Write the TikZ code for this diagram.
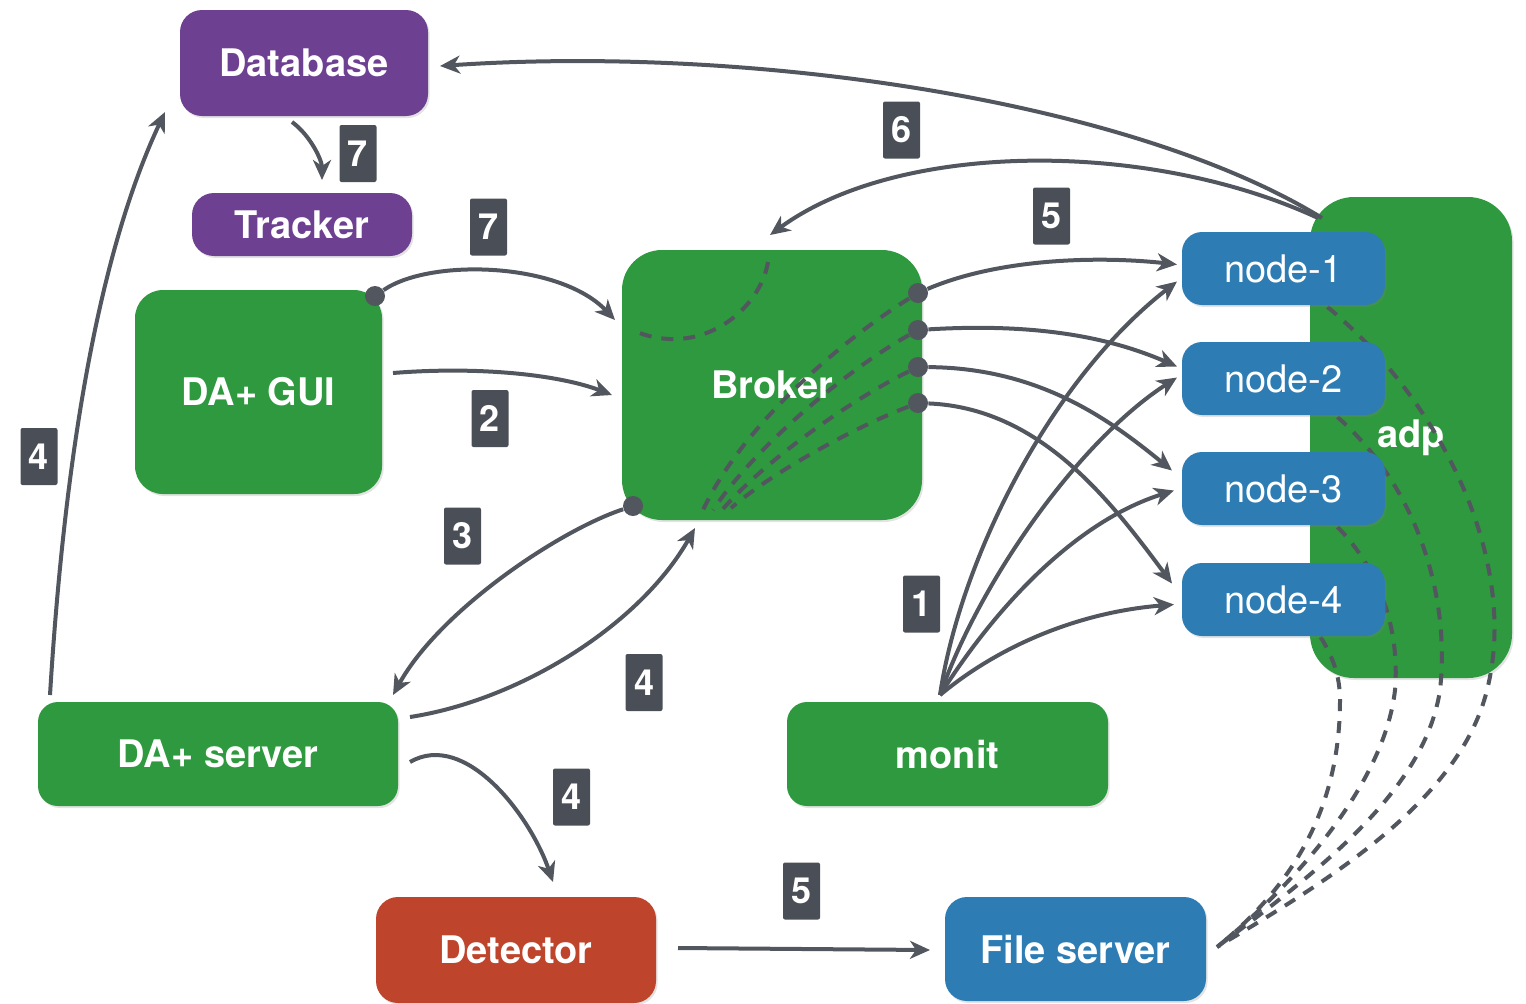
\documentclass[tikz,border=0pt]{standalone}
\usepackage{fontspec}
\setmainfont{TeX Gyre Heros}
\usetikzlibrary{arrows.meta,shadows}

\definecolor{boxGreen}{RGB}{46,153,62}
\definecolor{boxPurple}{RGB}{110,64,145}
\definecolor{boxBlue}{RGB}{45,125,180}
\definecolor{boxRed}{RGB}{190,68,44}
\definecolor{tagGray}{RGB}{74,78,86}
\definecolor{lineGray}{RGB}{82,86,94}

\pgfdeclarelayer{back}
\pgfdeclarelayer{mid}
\pgfsetlayers{back,mid,main}

\newcommand\boxfont{\fontsize{19pt}{22pt}\selectfont\bfseries}
\newcommand\plainfont{\fontsize{19pt}{22pt}\selectfont\mdseries}

\begin{document}
\begin{tikzpicture}[x=0.5pt,y=-0.5pt,
  box/.style={text=white, font=\boxfont, inner sep=0pt, outer sep=0pt,
    drop shadow={shadow xshift=0.8pt, shadow yshift=-1pt, opacity=0.22}},
  numtag/.style={fill=tagGray, text=white, font=\fontsize{18pt}{20pt}\selectfont\bfseries,
    minimum width=18.5pt, minimum height=28.5pt, inner sep=0pt, rounded corners=1pt},
  flow/.style={draw=lineGray, line width=2pt,
    -{Stealth[length=10pt,width=9pt,inset=3pt]}},
  dotmark/.style={circle, fill=lineGray, minimum size=10pt, inner sep=0pt},
  trace/.style={draw=lineGray, line width=2pt, dash pattern=on 6pt off 5pt},
]
\useasboundingbox (0,0) rectangle (1526,1003);

% ---------- boxes ----------
\begin{pgfonlayer}{back}
  \node[box, fill=boxGreen, rounded corners=22pt, minimum width=101pt, minimum height=240.5pt]
    (adp) at (1411,437.5) {adp};
\end{pgfonlayer}

\node[box, fill=boxPurple, rounded corners=11pt, minimum width=124pt, minimum height=53pt]
  (db) at (304,63) {Database};
\node[box, fill=boxPurple, rounded corners=11pt, minimum width=110pt, minimum height=31.5pt]
  (tracker) at (302,224.5) {Tracker};
\node[box, fill=boxGreen, rounded corners=14pt, minimum width=123.5pt, minimum height=102pt]
  (gui) at (258.5,392) {DA+ GUI};
\node[box, fill=boxGreen, rounded corners=20pt, minimum width=150pt, minimum height=135pt]
  (broker) at (772,385) {Broker};
\node[box, fill=boxGreen, rounded corners=10pt, minimum width=180pt, minimum height=52pt]
  (server) at (218,754) {DA+ server};
\node[box, fill=boxGreen, rounded corners=10pt, minimum width=160.5pt, minimum height=52pt]
  (monit) at (947.5,754) {monit};
\node[box, fill=boxRed, rounded corners=11pt, minimum width=140pt, minimum height=53pt]
  (detector) at (516,950) {Detector};
\node[box, fill=boxBlue, rounded corners=11pt, minimum width=130.5pt, minimum height=52pt]
  (files) at (1075.5,949) {File server};

\foreach \i/\y in {1/268.5, 2/378.5, 3/488.5, 4/599.5}
  \node[box, font=\plainfont, fill=boxBlue, rounded corners=10pt,
        minimum width=101.5pt, minimum height=36.5pt] (n\i) at (1283.5,\y) {node-\i};

% ---------- step numbers ----------
\node[numtag] (t7a) at (358,153.5) {7};
\node[numtag] (t7b) at (488.5,227) {7};
\node[numtag] (t6)  at (901.5,130) {6};
\node[numtag] (t5a) at (1051.5,216) {5};
\node[numtag] (t2)  at (490,418.5) {2};
\node[numtag] (t4a) at (39,456.5) {4};
\node[numtag] (t3)  at (462.5,536) {3};
\node[numtag] (t1)  at (921.5,604) {1};
\node[numtag] (t4b) at (644,682.5) {4};
\node[numtag] (t4c) at (571.5,797) {4};
\node[numtag] (t5b) at (801.5,891) {5};

% ---------- dashed traces inside adp, down to the file server ----------
\begin{pgfonlayer}{mid}
  \draw[trace] ([shift={(44,2)}]n1.south) .. controls (1440,400) and (1520,560) .. (1487,690)
     .. controls (1460,800) and (1330,880) .. ([shift={(11,-2)}]files.east);
  \draw[trace] ([shift={(54,2)}]n2.south) .. controls (1420,490) and (1450,600) .. (1440,690)
     .. controls (1425,790) and (1320,870) .. ([shift={(11,-2)}]files.east);
  \draw[trace] ([shift={(54,2)}]n3.south) .. controls (1380,570) and (1400,630) .. (1395,690)
     .. controls (1385,780) and (1300,880) .. ([shift={(11,-2)}]files.east);
  \draw[trace] ([shift={(37,1)}]n4.south) .. controls (1335,660) and (1340,680) .. (1340,700)
     .. controls (1340,800) and (1300,880) .. ([shift={(11,-2)}]files.east);
\end{pgfonlayer}

% ---------- connection points ----------
\node[dotmark] (g1) at (375,296) {};
\node[dotmark] (b1) at (918,293) {};
\node[dotmark] (b2) at (918,330) {};
\node[dotmark] (b3) at (918,367) {};
\node[dotmark] (b4) at (918,403) {};
\node[dotmark] (b0) at (633,506) {};

% ---------- dashed traces inside the broker ----------
\draw[trace] ([shift={(-4,12)}]broker.north) .. controls (760,310) and (700,360) .. ([shift={(10,-55)}]broker.west);
\draw[trace] (b1) .. controls (850,335) and (745,420) .. ([shift={(-69,-10)}]broker.south);
\draw[trace] (b2) .. controls (855,365) and (760,440) .. ([shift={(-59,-10)}]broker.south);
\draw[trace] (b3) .. controls (860,395) and (770,455) .. ([shift={(-50,-10)}]broker.south);
\draw[trace] (b4) .. controls (860,425) and (775,470) .. ([shift={(-41,-12)}]broker.south);

% ---------- arrows ----------
\draw[flow] ([shift={(12,21)}]adp.north west) .. controls (1130,100) and (750,45) .. ([shift={(12,3)}]db.east);
\draw[flow] ([shift={(8,21)}]adp.north west) .. controls (1150,140) and (900,140) .. ([shift={(-2,-15)}]broker.north);
\draw[flow] ([shift={(-12,6)}]db.south) .. controls (310,135) and (322,160) .. ([shift={(20,-13)}]tracker.north);
\draw[flow] (g1) .. controls (430,258) and (560,262) .. ([shift={(-7,-65)}]broker.west);
\draw[flow] ([shift={(11,-19)}]gui.east) .. controls (480,366) and (560,375) .. ([shift={(-10,10)}]broker.west);
\draw[flow] (b0) .. controls (560,530) and (440,610) .. ([shift={(-5,-7)}]server.north east);
\draw[flow] ([shift={(12,-37)}]server.east) .. controls (520,700) and (640,625) .. ([shift={(-77,8)}]broker.south);
\draw[flow] ([shift={(12,8)}]server.east) .. controls (465,730) and (530,815) .. ([shift={(37,-15)}]detector.north);
\draw[flow] ([shift={(12,-7)}]server.north west) .. controls (65,450) and (100,250) .. ([shift={(-15,-4)}]db.south west);
\draw[flow] ([shift={(22,-2)}]detector.east) -- ([shift={(-15,1)}]files.west);

% broker to worker nodes
\draw[flow] (b1) .. controls (1000,258) and (1100,256) .. ([shift={(-5,-4)}]n1.west);
\draw[flow] (b2) .. controls (1050,322) and (1120,342) .. ([shift={(-5,-12)}]n2.west);
\draw[flow] (b3) .. controls (1040,368) and (1110,420) .. ([shift={(-10,-18)}]n3.west);
\draw[flow] (b4) .. controls (1040,408) and (1110,500) .. ([shift={(-10,-16)}]n4.west);

% monit to worker nodes
\draw[flow] ([shift={(-7.5,-7)}]monit.north) .. controls (960,560) and (1050,380) .. ([shift={(-5,13)}]n1.west);
\draw[flow] ([shift={(-7.5,-7)}]monit.north) .. controls (980,580) and (1080,440) .. ([shift={(-5,-1)}]n2.west);
\draw[flow] ([shift={(-7.5,-7)}]monit.north) .. controls (1000,600) and (1080,520) .. ([shift={(-8,2)}]n3.west);
\draw[flow] ([shift={(-7.5,-7)}]monit.north) .. controls (1000,645) and (1080,612) .. ([shift={(-8,5)}]n4.west);
\end{tikzpicture}
\end{document}
